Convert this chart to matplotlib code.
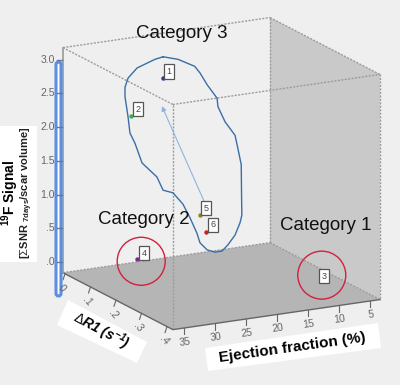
import matplotlib
matplotlib.use("Agg")
import matplotlib.pyplot as plt
from matplotlib.patches import Polygon, Circle, FancyBboxPatch
import numpy as np

plt.rcParams['font.family'] = ['Liberation Sans', 'DejaVu Sans']
plt.rcParams['mathtext.fontset'] = 'custom'
plt.rcParams['mathtext.rm'] = 'Liberation Sans'
plt.rcParams['mathtext.bf'] = 'Liberation Sans:bold'
plt.rcParams['mathtext.it'] = 'Liberation Sans:italic'
plt.rcParams['mathtext.bfit'] = 'Liberation Sans:italic:bold'

# data
point_ids = ["1", "2", "3", "4", "5", "6"]
point_ef = [29.2, 34.4, 7.4, 26.8, 23.25, 22.3]
point_r1 = [0.2, 0.2, 0.3, 0.04, 0.2, 0.2]
point_sig = [3.04, 2.54, 0.0, 0.0, 0.92, 0.66]
point_colors = ["#2A3F8F", "#3FAF4F", "#999999", "#7B2D8E", "#8A8A20", "#D02020"]

outline_r1 = 0.2
outline_ef = [29.2, 26.8, 24.1, 23.25, 22.1, 20.5, 20.35, 19.2, 17.6, 17.1, 16.6, 16.55,
              16.5, 16.8, 17.6, 18.75, 19.7, 20.85, 22.1, 23.25, 23.75, 24.85, 26.0, 27.6,
              29.2, 30.2, 32.6, 33.75, 34.55, 34.85, 35.35, 35.35, 34.85, 33.4, 31.8, 30.5, 29.2]
outline_sig = [3.35, 3.28, 3.14, 3.03, 2.84, 2.62, 2.49, 2.25, 2.03, 1.81, 1.58, 1.13,
               0.83, 0.72, 0.55, 0.42, 0.34, 0.34, 0.39, 0.51, 0.66, 0.90, 1.12, 1.31,
               1.37, 1.58, 1.82, 2.13, 2.29, 2.53, 2.84, 2.98, 3.11, 3.24, 3.29, 3.33, 3.35]

arrow_ef = [22.1, 29.4]
arrow_sig = [1.01, 2.62]

ef_ticks = [35, 30, 25, 20, 15, 10, 5]
r1_ticks = [0, 0.1, 0.2, 0.3, 0.4]
r1_labels = ["0", ".1", ".2", ".3", ".4"]
sig_ticks = [3.0, 2.5, 2.0, 1.5, 1.0, 0.5, 0.0]
sig_labels = ["3.0", "2.5", "2.0", "1.5", "1.0", ".5", ".0"]

ef_min, ef_max = 3.4, 36.8
r1_min, r1_max = -0.008, 0.423
sig_min, sig_max = -0.16, 3.18


def proj(ef, r1, sig):
    # oblique projection of the 3d box onto figure pixels
    ef, r1, sig = np.asarray(ef, float), np.asarray(r1, float), np.asarray(sig, float)
    u = ef_max - ef
    x = 65 + 6.2 * u + 255 * r1
    y = 263 - 0.9 * u + 132 * r1 - 67.4 * sig
    return x, y


bg = "#EFEFEF"
fig = plt.figure(figsize=(4, 3.85), dpi=100, facecolor=bg)
ax = fig.add_axes([0, 0, 1, 1])
ax.set_xlim(0, 400)
ax.set_ylim(385, 0)
ax.axis("off")

# box corners: a = far ef / low r1, b = far ef / high r1, c = near ef / high r1, d = near ef / low r1
a0 = proj(ef_max, r1_min, sig_min)
b0 = proj(ef_max, r1_max, sig_min)
c0 = proj(ef_min, r1_max, sig_min)
d0 = proj(ef_min, r1_min, sig_min)
a1 = proj(ef_max, r1_min, sig_max)
b1 = proj(ef_max, r1_max, sig_max)
c1 = proj(ef_min, r1_max, sig_max)
d1 = proj(ef_min, r1_min, sig_max)

ax.add_patch(Polygon([d1, c1, c0, d0], fc="#C9C9C9", ec="none", zorder=1))
ax.add_patch(Polygon([a0, b0, c0, d0], fc="#B5B5B5", ec="none", zorder=1))

dash = dict(color="#9C9C9C", lw=1.0, ls=(0, (1.5, 1.0)), zorder=2)
for p, q in [(a1, b1), (a1, d1), (b1, c1), (d1, c1), (d1, d0), (b1, b0), (c1, c0), (a0, d0), (d0, c0)]:
    ax.plot([p[0], q[0]], [p[1], q[1]], **dash)
ax.plot([a0[0], b0[0], c0[0]], [a0[1], b0[1], c0[1]], color="#666666", lw=1.0, zorder=2)
ax.plot([a0[0], a1[0]], [a0[1], a1[1]], color="#999999", lw=1.2, zorder=2)

# white label backgrounds
ax.add_patch(Polygon([(0, 126), (37, 126), (37, 262), (0, 262)], fc="white", ec="none", zorder=1))
ax.add_patch(Polygon([(68, 300), (147, 342), (137, 363), (57, 325)], fc="white", ec="none", zorder=1))
ax.add_patch(Polygon([(205, 348), (378, 323), (381, 348), (208, 371)], fc="white", ec="none", zorder=1))

# highlighted signal axis
ax.add_patch(FancyBboxPatch((56, 62), 5, 234, boxstyle="round,pad=0,rounding_size=2.5",
                            fc="white", ec="#5B8FE0", lw=2.2, zorder=3))

# signal axis ticks
for s, lab in zip(sig_ticks, sig_labels):
    x, y = proj(ef_max, r1_min, s)
    ax.plot([x - 6, x - 1], [y, y], color="#667799", lw=1.0, zorder=4)
    ax.text(55, y, lab, ha="right", va="center", fontsize=7.5, color="#666666", zorder=5)

# r1 axis ticks
for r, lab in zip(r1_ticks, r1_labels):
    x, y = proj(ef_max, r, sig_min)
    ax.plot([x, x - 2], [y, y + 6], color="#666666", lw=0.8, zorder=2)
    ax.text(x - 3, y + 14, lab, ha="center", va="center", fontsize=7.5, color="#666666",
            rotation=-50, zorder=5)

# ef axis ticks
for e in ef_ticks:
    x, y = proj(e, r1_max, sig_min)
    ax.plot([x, x], [y, y + 6], color="#666666", lw=0.8, zorder=2)
    ax.text(x + 1, y + 14, str(e), ha="center", va="center", fontsize=7.5, color="#666666",
            rotation=8, zorder=5)

# outline, arrow
ox, oy = proj(outline_ef, outline_r1, outline_sig)
ax.plot(ox, oy, color="#3A6EA5", lw=1.0, zorder=6)
ax_, ay_ = proj(arrow_ef, outline_r1, arrow_sig)
ax.annotate("", xy=(ax_[1], ay_[1]), xytext=(ax_[0], ay_[0]), zorder=6,
            arrowprops=dict(arrowstyle="-|>", color="#8FB4DC", lw=0.8, mutation_scale=7,
                            shrinkA=0, shrinkB=0))

# points and id boxes
px, py = proj(point_ef, point_r1, point_sig)
offsets = {"1": (6, -6), "2": (7, -7), "3": (0, 0), "4": (7, -6), "5": (6, -7), "6": (7, -7)}
for i, lab in enumerate(point_ids):
    ax.plot(px[i], py[i], "o", ms=3.2, color=point_colors[i], mec="none", zorder=7)
    dx, dy = offsets[lab]
    ax.text(px[i] + dx, py[i] + dy, lab, ha="center", va="center", fontsize=6.5, color="#444444",
            zorder=8, bbox=dict(boxstyle="square,pad=0.3", fc="white", ec="#555555", lw=0.9))

# red circles around point 3 and 4
for i, (dx, dy) in [(2, (-2, -1)), (3, (4, 2))]:
    ax.add_patch(Circle((px[i] + dx, py[i] + dy), 24, fc="none", ec="#D0213F", lw=1.0, zorder=9))

# text
ax.text(182, 34, "Category 3", ha="center", va="center", fontsize=13.5, color="#111111", zorder=10)
ax.text(144, 220, "Category 2", ha="center", va="center", fontsize=13.5, color="#111111", zorder=10)
ax.text(326, 225, "Category 1", ha="center", va="center", fontsize=13.5, color="#111111", zorder=10)

ax.text(10, 193, r"$\mathbf{^{19}}$F Signal", rotation=90, ha="center", va="center",
        fontsize=10, fontweight="bold", color="black", zorder=10)
ax.text(27, 193, r"[$\Sigma$SNR $_{\mathbf{7days}}$/scar volume]", rotation=90, ha="center", va="center",
        fontsize=8, fontweight="bold", color="#222222", zorder=10)
ax.text(101, 331, r"$\Delta\mathbfit{R1\ (s^{-1})}$", rotation=-28, ha="center", va="center",
        rotation_mode="anchor", fontsize=10, color="black", zorder=10)
ax.text(292, 348, "Ejection fraction (%)", rotation=8, ha="center", va="center",
        rotation_mode="anchor", fontsize=11, fontweight="bold", color="black", zorder=10)

fig.savefig("out.png", dpi=100, facecolor=bg)
